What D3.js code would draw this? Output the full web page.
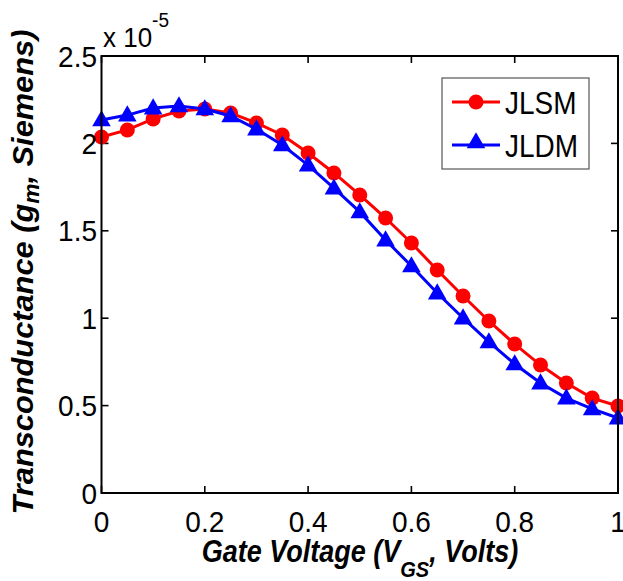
<!DOCTYPE html>
<html><head><meta charset="utf-8">
<script src="https://cdn.jsdelivr.net/npm/d3@7"></script>
<style>html,body{margin:0;padding:0;background:#fff;}svg{display:block;}</style>
</head><body>
<script>
const vgs = [0,0.05,0.1,0.15,0.2,0.25,0.3,0.35,0.4,0.45,0.5,0.55,0.6,0.65,0.7,0.75,0.8,0.85,0.9,0.95,1.0];
const jlsm = [2.037,2.077,2.140,2.185,2.197,2.174,2.117,2.048,1.945,1.831,1.705,1.573,1.430,1.276,1.127,0.984,0.852,0.732,0.629,0.543,0.498];
const jldm = [2.134,2.162,2.202,2.214,2.197,2.157,2.082,1.991,1.876,1.744,1.608,1.447,1.299,1.144,1.001,0.864,0.738,0.629,0.543,0.481,0.429];
const xTicks = [0,0.2,0.4,0.6,0.8,1];
const yTicks = [0,0.5,1,1.5,2,2.5];
const xTickLabels = ["0","0.2","0.4","0.6","0.8","1"];
const yTickLabels = ["0","0.5","1","1.5","2","2.5"];
const seriesNames = ["JLSM","JLDM"];

const W=623,H=581;
const L=101.5,R=618,T=56,B=493;
const font="'Liberation Sans', Arial, Helvetica, sans-serif";
const svg=d3.select("body").append("svg").attr("width",W).attr("height",H);
const x=d3.scaleLinear().domain([0,1]).range([L,R]);
const y=d3.scaleLinear().domain([0,2.5]).range([B,T]);

// ticks (inward, all four sides)
const tl=7;
const axG=svg.append("g").attr("stroke","#000").attr("stroke-width",1.6);
xTicks.forEach(v=>{
  axG.append("line").attr("x1",x(v)).attr("x2",x(v)).attr("y1",B).attr("y2",B-tl);
  axG.append("line").attr("x1",x(v)).attr("x2",x(v)).attr("y1",T).attr("y2",T+tl);
});
yTicks.forEach(v=>{
  axG.append("line").attr("x1",L).attr("x2",L+tl).attr("y1",y(v)).attr("y2",y(v));
  axG.append("line").attr("x1",R).attr("x2",R-tl).attr("y1",y(v)).attr("y2",y(v));
});

// series
const line=d3.line().x((d,i)=>x(vgs[i])).y(d=>y(d));
svg.append("path").datum(jlsm).attr("d",line).attr("fill","none").attr("stroke","#ff0000").attr("stroke-width",3);
svg.append("g").selectAll("circle").data(jlsm).join("circle")
  .attr("cx",(d,i)=>x(vgs[i])).attr("cy",d=>y(d)).attr("r",7.5).attr("fill","#ff0000");
svg.append("path").datum(jldm).attr("d",line).attr("fill","none").attr("stroke","#0000ff").attr("stroke-width",3);
const tri=d3.symbol().type(d3.symbolTriangle).size(150);
svg.append("g").selectAll("path").data(jldm).join("path")
  .attr("d",tri).attr("transform",(d,i)=>`translate(${x(vgs[i])},${y(d)+1})`).attr("fill","#0000ff");

// box
svg.append("rect").attr("x",L).attr("y",T).attr("width",R-L).attr("height",B-T)
  .attr("fill","none").attr("stroke","#000").attr("stroke-width",2);

// tick labels
svg.append("g").selectAll("text").data(xTicks).join("text")
  .attr("transform",d=>`translate(${x(d)},532) scale(1,1.05)`).attr("text-anchor","middle")
  .attr("font-family",font).attr("font-size",28).text((d,i)=>xTickLabels[i]);
svg.append("g").selectAll("text").data(yTicks).join("text")
  .attr("transform",d=>`translate(97,${y(d)+10.5}) scale(1,1.05)`).attr("text-anchor","end")
  .attr("font-family",font).attr("font-size",28).text((d,i)=>yTickLabels[i]);

// exponent
const ex=svg.append("text").attr("transform","translate(103,47) scale(1,1.05)").attr("font-family",font).attr("font-size",26);
ex.append("tspan").text("x 10");
ex.append("tspan").attr("dy",-19).attr("font-size",19).text("-5");

// x label
const xl=svg.append("text").attr("transform","translate(360,562) scale(1,1.13)").attr("text-anchor","middle")
  .attr("font-family",font).attr("font-size",27).attr("font-weight","bold").attr("font-style","italic");
xl.append("tspan").text("Gate Voltage (V");
xl.append("tspan").attr("font-size",20).attr("dy",13).text("GS");
xl.append("tspan").attr("dy",-13).text(", Volts)");

// y label
const yl=svg.append("text").attr("transform","translate(33,272) rotate(-90) scale(1.14,1.12)").attr("text-anchor","middle")
  .attr("font-family",font).attr("font-size",27).attr("font-weight","bold").attr("font-style","italic");
yl.append("tspan").text("Transconductance (g");
yl.append("tspan").attr("font-size",20).attr("dy",5).text("m");
yl.append("tspan").attr("dy",-5).text(", Siemens)");

// legend
const lg=svg.append("g");
lg.append("rect").attr("x",442).attr("y",78).attr("width",147).attr("height",91)
  .attr("fill","#fff").attr("stroke","#555").attr("stroke-width",1.2);
const colors=["#ff0000","#0000ff"];
[102,145].forEach((ly,i)=>{
  lg.append("line").attr("x1",452).attr("x2",500).attr("y1",ly).attr("y2",ly).attr("stroke",colors[i]).attr("stroke-width",3);
  if(i===0) lg.append("circle").attr("cx",476).attr("cy",ly).attr("r",7.5).attr("fill",colors[i]);
  else lg.append("path").attr("d",tri).attr("transform",`translate(476,${ly-2})`).attr("fill",colors[i]);
  lg.append("text").attr("transform",`translate(505,${ly+12}) scale(1,1.15)`).attr("font-family",font).attr("font-size",28).text(seriesNames[i]);
});
</script>
</body></html>
